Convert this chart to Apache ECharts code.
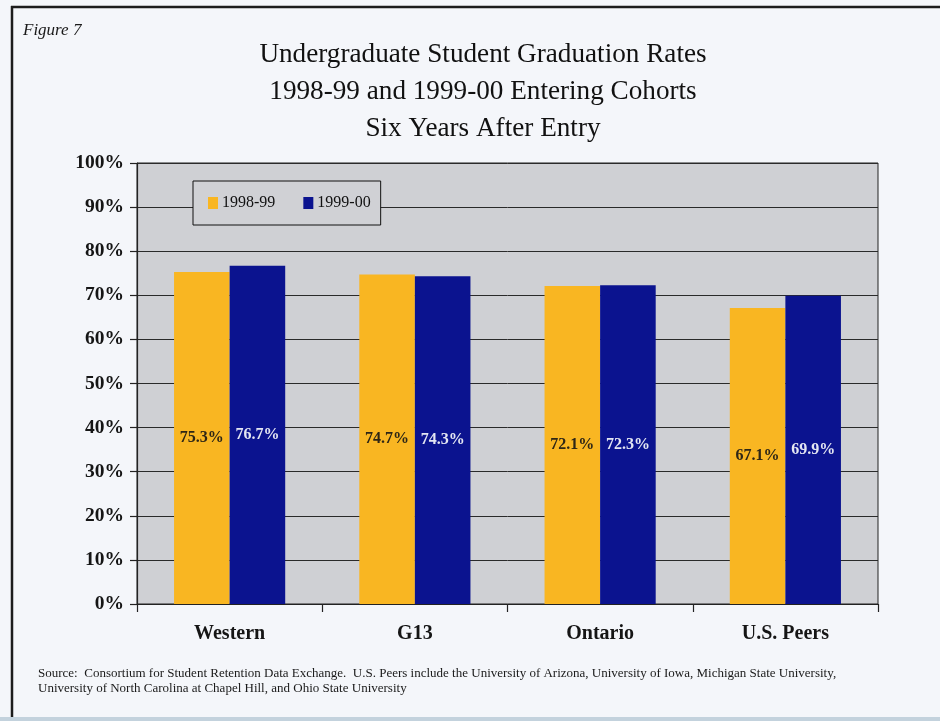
<!DOCTYPE html>
<html>
<head>
<meta charset="utf-8">
<script src="https://cdn.jsdelivr.net/npm/echarts@6/dist/echarts.min.js"></script>
<style>
  html, body { margin: 0; padding: 0; background: #f4f6fa; }
  #chart { width: 940px; height: 721px; }
</style>
</head>
<body>
<div id="chart"></div>
<script>
// Graduation rates (%) six years after entry, by comparison group
const categories = ['Western', 'G13', 'Ontario', 'U.S. Peers'];
const cohort9899 = [75.3, 74.7, 72.1, 67.1];
const cohort9900 = [76.7, 74.3, 72.3, 69.9];
const seriesNames = ['1998-99', '1999-00'];
const yTicks = { min: 0, max: 100, interval: 10 };

const serif = '"Liberation Serif", "Times New Roman", serif';

const chart = echarts.init(document.getElementById('chart'), null, { renderer: 'canvas' });

chart.setOption({
  backgroundColor: '#f4f6fa',
  animation: false,
  title: [
    {
      text: 'Figure 7',
      left: 18, top: 17,
      textStyle: { fontFamily: serif, fontStyle: 'italic', fontWeight: 'normal', fontSize: 17, color: '#1a1a1a' }
    },
    {
      text: 'Undergraduate Student Graduation Rates\n1998-99 and 1999-00 Entering Cohorts\nSix Years After Entry',
      left: 478, top: 31, textAlign: 'center',
      textStyle: { fontFamily: serif, fontWeight: 'normal', fontSize: 27.2, lineHeight: 37, color: '#111' }
    },
    {
      text: 'Source:  Consortium for Student Retention Data Exchange.  U.S. Peers include the University of Arizona, University of Iowa, Michigan State University,\nUniversity of North Carolina at Chapel Hill, and Ohio State University',
      left: 33, top: 661,
      textStyle: { fontFamily: serif, fontWeight: 'normal', fontSize: 13, lineHeight: 15, color: '#1a1a1a' }
    }
  ],
  legend: {
    data: seriesNames,
    left: 193, top: 181,
    padding: [14, 10, 14, 15],
    itemGap: 28,
    itemWidth: 10, itemHeight: 12,
    icon: 'rect',
    backgroundColor: '#d0d1d5',
    borderColor: '#111',
    borderWidth: 1,
    textStyle: { fontFamily: serif, fontSize: 16, color: '#111', padding: [0, 0, 0, -1] }
  },
  grid: {
    left: 137, right: 62, top: 163, bottom: 117,
    show: true,
    backgroundColor: '#cfd0d4',
    borderColor: '#222',
    borderWidth: 1
  },
  xAxis: {
    type: 'category',
    data: categories,
    axisLine: { lineStyle: { color: '#222', width: 1.2 } },
    axisTick: { show: true, length: 8, inside: false, lineStyle: { color: '#222', width: 1.2 } },
    axisLabel: { margin: 20, fontFamily: serif, fontWeight: 'bold', fontSize: 20, color: '#151515' }
  },
  yAxis: {
    type: 'value',
    min: yTicks.min, max: yTicks.max, interval: yTicks.interval,
    axisLine: { show: true, lineStyle: { color: '#222', width: 1.2 } },
    axisTick: { show: true, length: 7, lineStyle: { color: '#222', width: 1.2 } },
    splitLine: { show: true, lineStyle: { color: '#2a2a2a', width: 1 } },
    axisLabel: { margin: 13, formatter: '{value}%', fontFamily: serif, fontWeight: 'bold', fontSize: 19.5, color: '#151515' }
  },
  series: [
    {
      name: seriesNames[0],
      type: 'bar',
      data: cohort9899,
      barGap: '0%',
      barCategoryGap: '40%',
      itemStyle: { color: '#f9b622' },
      label: {
        show: true, position: 'inside',
        formatter: p => p.value.toFixed(1) + '%',
        fontFamily: serif, fontWeight: 'bold', fontSize: 16, color: '#2e2616'
      }
    },
    {
      name: seriesNames[1],
      type: 'bar',
      data: cohort9900,
      barGap: '0%',
      barCategoryGap: '40%',
      itemStyle: { color: '#0b138f' },
      label: {
        show: true, position: 'inside',
        formatter: p => p.value.toFixed(1) + '%',
        fontFamily: serif, fontWeight: 'bold', fontSize: 16, color: '#e4e6f2'
      }
    }
  ],
  graphic: [
    // frame around the figure
    { type: 'line', shape: { x1: 11, y1: 7, x2: 940, y2: 7 }, style: { stroke: '#1c1c1c', lineWidth: 2.5 } },
    { type: 'line', shape: { x1: 12, y1: 6, x2: 12, y2: 717 }, style: { stroke: '#1c1c1c', lineWidth: 2.5 } },
    { type: 'rect', shape: { x: 0, y: 717, width: 940, height: 4 }, style: { fill: '#c3d2dd' } }
  ]
});
</script>
</body>
</html>
